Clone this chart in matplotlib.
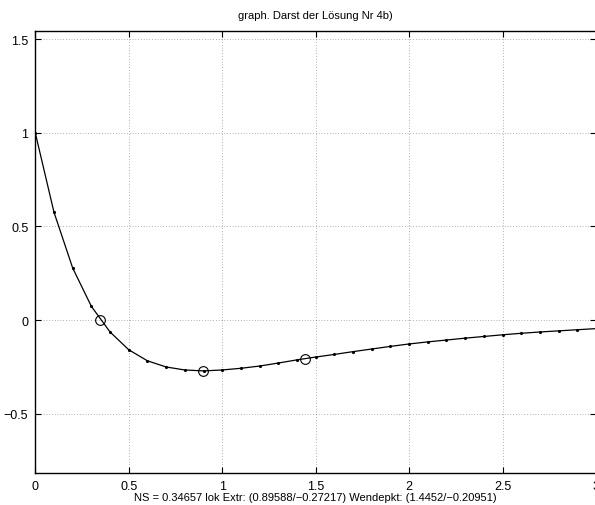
import matplotlib.pyplot as plt

x = [0.0, 0.1, 0.2, 0.3, 0.4, 0.5, 0.6, 0.7, 0.8, 0.9, 1.0,
     1.1, 1.2, 1.3, 1.4, 1.5, 1.6, 1.7, 1.8, 1.9, 2.0,
     2.1, 2.2, 2.3, 2.4, 2.5, 2.6, 2.7, 2.8, 2.9, 3.0]
y = [1.0, 0.576, 0.278, 0.073, -0.064, -0.159, -0.218, -0.251, -0.267, -0.272, -0.267,
     -0.258, -0.246, -0.230, -0.213, -0.198, -0.184, -0.169, -0.155, -0.141, -0.128,
     -0.117, -0.107, -0.097, -0.088, -0.079, -0.071, -0.064, -0.058, -0.052, -0.046]

# special points: zero, local extremum, inflection point
px = [0.34657, 0.89588, 1.4452]
py = [0.0, -0.27217, -0.20951]

xticks = [0, 0.5, 1, 1.5, 2, 2.5, 3]
yticks = [-0.5, 0, 0.5, 1, 1.5]

plt.rcParams['font.family'] = ['Liberation Sans', 'DejaVu Sans']

fig = plt.figure(figsize=(5.95, 5.06), dpi=100)
ax = fig.add_axes([0.0593, 0.0638, 0.9424, 0.8736])

ax.plot(x, y, c='black', lw=0.9, marker='.', ms=2.5)
ax.plot(px, py, ls='none', marker='o', ms=7, mfc='none', mec='black', mew=0.8)

ax.set_xlim(0, 3)
ax.set_ylim(-0.816, 1.546)
ax.set_xticks(xticks)
ax.set_xticklabels(['0', '0.5', '1', '1.5', '2', '2.5', '3'])
ax.set_yticks(yticks)
ax.set_yticklabels(['\u22120.5', '0', '0.5', '1', '1.5'])
ax.tick_params(direction='in', length=4.5, width=0.8, top=True, right=True, labelsize=9, pad=5)
ax.grid(True, color='black', ls=(0, (1, 3)), lw=0.5, alpha=0.6)
for s in ax.spines.values():
    s.set_linewidth(1.0)

ax.set_title('graph. Darst der Lösung Nr 4b)', fontsize=8, pad=9)
ax.set_xlabel('NS = 0.34657 lok Extr: (0.89588/\u22120.27217) Wendepkt: (1.4452/\u22120.20951)',
              fontsize=8, labelpad=0)

fig.savefig('out.png', dpi=100)
